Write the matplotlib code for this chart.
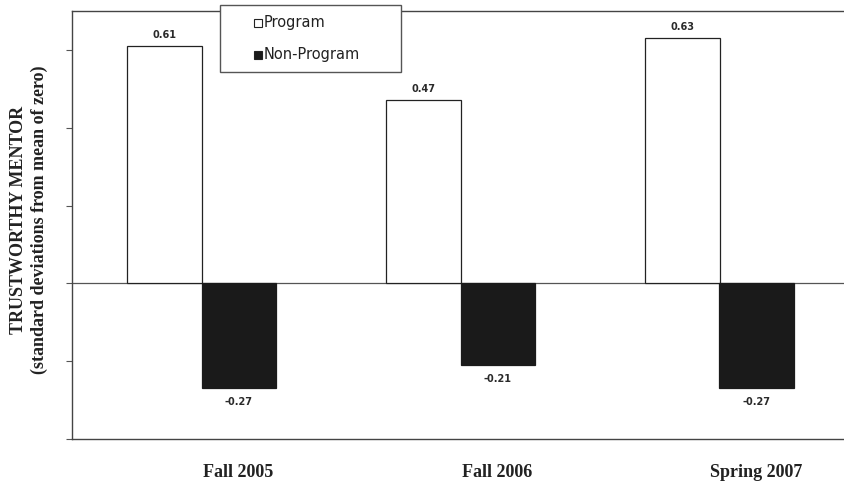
import matplotlib
matplotlib.use("Agg")
import matplotlib.pyplot as plt
from matplotlib.patches import Rectangle
import numpy as np

categories = ["Fall 2005", "Fall 2006", "Spring 2007"]
program = [0.61, 0.47, 0.63]
non_program = [-0.27, -0.21, -0.27]
series_names = ["Program", "Non-Program"]
yticks = [-0.4, -0.2, 0.0, 0.2, 0.4, 0.6]

fig = plt.figure(figsize=(8.45, 4.87), dpi=100)
ax = fig.add_axes([72/845, 48/487, 777/845, 428/487])

x = np.arange(len(categories))
w = 0.286
b1 = ax.bar(x - w/2, program, w, color="white", edgecolor="#222222", linewidth=0.9)
b2 = ax.bar(x + w/2, non_program, w, color="#1a1a1a", edgecolor="#1a1a1a", linewidth=0.9)

for bars, vals in ((b1, program), (b2, non_program)):
    for r, v in zip(bars, vals):
        cx = r.get_x() + r.get_width()/2
        off = 8 if v >= 0 else -10
        ax.annotate(f"{v:.2f}", (cx, v), xytext=(0, off), textcoords="offset points",
                    ha="center", va="center", fontsize=7, fontweight="bold",
                    family="DejaVu Sans", color="#2a2a2a")

ax.axhline(0, color="#555555", linewidth=0.9, zorder=0)
ax.set_xlim(-0.5, 2.5)
ax.set_ylim(-0.4, 0.7)
ax.set_yticks(yticks)
ax.set_yticklabels([""] * len(yticks))
ax.tick_params(axis="y", length=4, color="#555555")
ax.set_xticks(x + w/2)
ax.set_xticklabels(categories, family="Liberation Serif", fontweight="bold", fontsize=13,
                   color="#222222")
ax.tick_params(axis="x", length=0, pad=18)
for s in ("left", "top", "bottom"):
    ax.spines[s].set_color("#444444")
    ax.spines[s].set_linewidth(1.0)
ax.spines["right"].set_visible(False)

fig.text(29/845, 1 - 220/487, "TRUSTWORTHY MENTOR\n(standard deviations from mean of zero)",
         rotation=90, ha="center", va="center", family="Liberation Serif",
         fontweight="bold", fontsize=13, linespacing=1.25, color="#222222")

# legend box
W, H = 845, 487
fig.add_artist(Rectangle((220/W, 1 - 72/H), 181/W, 67/H, transform=fig.transFigure,
                         facecolor="white", edgecolor="#555555", linewidth=1.0, zorder=5))
for i, (name, fc) in enumerate(zip(series_names, ["white", "#1a1a1a"])):
    yc = 23 + 32 * i
    fig.add_artist(Rectangle((254/W, 1 - (yc + 3.5)/H), 7.5/W, 7.5/H, transform=fig.transFigure,
                             facecolor=fc, edgecolor="#222222", linewidth=0.8, zorder=6))
    fig.text(264/W, 1 - yc/H, name, ha="left", va="center", family="DejaVu Sans",
             fontsize=10.5, color="#222222", zorder=6)

fig.savefig("out.png", dpi=100)
